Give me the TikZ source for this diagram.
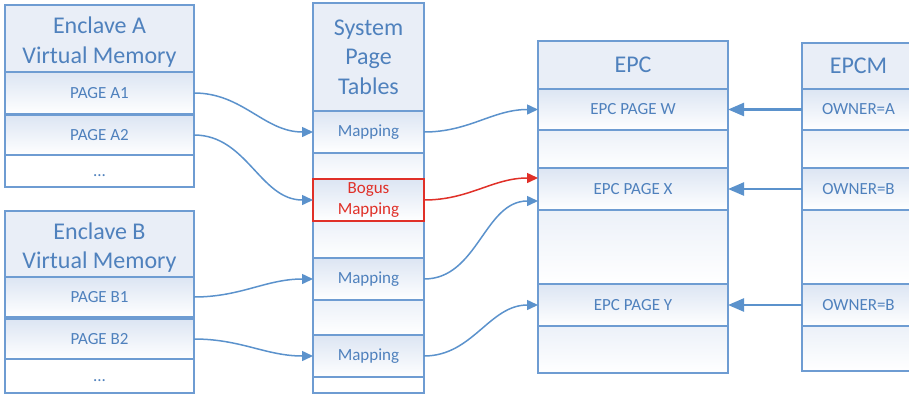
\documentclass[tikz,border=0pt]{standalone}
\usepackage{fontspec}
\setmainfont{Carlito}
\usetikzlibrary{arrows.meta,calc}

\definecolor{linec}{RGB}{110,156,210}
\definecolor{txt}{RGB}{79,129,189}
\definecolor{arrowc}{RGB}{91,146,204}
\definecolor{redc}{RGB}{224,48,40}
\definecolor{titlefill}{RGB}{233,238,247}
\definecolor{rowtop}{RGB}{220,229,243}

% a cell given by its corners: \cellbox[style](name)(x1,y1)(x2,y2){text}
\def\cellbox[#1](#2)(#3,#4)(#5,#6)#7{%
  \node[#1, minimum width={#5-#3}, minimum height={#6-#4}]
    (#2) at ({(#3+#5)/2},{(#4+#6)/2}) {#7};}
% content drawn lower than its box, keeping the box size
\newcommand\lowered[2]{\raisebox{-#1}[\height][\depth]{#2}}
\newcommand\twolines[2]{\lowered{4pt}{\begin{tabular}{@{}c@{}}#1\\#2\end{tabular}}}

\begin{document}
\begin{tikzpicture}[x=1pt,y=-1pt,
  cellbase/.style={draw=linec, line width=1.3, inner sep=0pt, outer sep=0pt, text=txt},
  titlecell/.style={cellbase, fill=titlefill, align=center,
    font=\fontsize{24}{29.5}\selectfont},
  rowcell/.style={cellbase, top color=rowtop, bottom color=white,
    font=\fontsize{17}{21}\selectfont},
  blankcell/.style={cellbase, top color=rowtop!55, bottom color=white},
  plaincell/.style={cellbase, fill=white, font=\fontsize{17}{21}\selectfont},
  badcell/.style={rowcell, draw=redc, text=redc, align=center},
  link/.style={draw=arrowc, line width=1.5, -{Triangle[length=11,width=10]}},
  badlink/.style={draw=redc, line width=1.5, -{Triangle[length=11,width=10]}},
  owner/.style={draw=arrowc, line width=2.4, -{Triangle[length=16,width=13]}}
]
\useasboundingbox (0,0) rectangle (909,394);
\clip (0,0) rectangle (909,394);

% Enclave A virtual memory
\cellbox[titlecell](tA)(5,5)(194,72){\twolines{Enclave A}{Virtual Memory}}
\cellbox[rowcell](a1)(5,72)(194,114){PAGE A1}
\cellbox[rowcell](a2)(5,115)(194,155){PAGE A2}
\cellbox[plaincell](aend)(5,155)(194,187){\lowered{5pt}{...}}

% Enclave B virtual memory
\cellbox[titlecell](tB)(5,211)(194,277){\twolines{Enclave B}{Virtual Memory}}
\cellbox[rowcell](b1)(5,277)(194,317){PAGE B1}
\cellbox[rowcell](b2)(5,319)(194,359){PAGE B2}
\cellbox[plaincell](bend)(5,359)(194,393){\lowered{5pt}{...}}

% System page tables
\cellbox[titlecell](tS)(313,3)(424,111){System\\Page\\Tables}
\cellbox[blankcell](s1)(313,153)(424,179){}
\cellbox[blankcell](s2)(313,221)(424,258){}
\cellbox[blankcell](s3)(313,300)(424,335){}
\cellbox[plaincell](s4)(313,377)(424,393){}
\cellbox[rowcell](m1)(313,111)(424,153){Mapping}
\cellbox[rowcell](m2)(313,258)(424,300){Mapping}
\cellbox[rowcell](m3)(313,335)(424,377){Mapping}
\cellbox[badcell](bogus)(313,179)(424,221){Bogus\\Mapping}

% EPC
\cellbox[titlecell](tE)(538,41)(728,89){EPC}
\cellbox[blankcell](e1)(538,130)(728,168){}
\cellbox[blankcell](e2)(538,210)(728,284){}
\cellbox[blankcell](e3)(538,326)(728,373){}
\cellbox[rowcell](pw)(538,89)(728,130){EPC PAGE W}
\cellbox[rowcell](px)(538,168)(728,210){EPC PAGE X}
\cellbox[rowcell](py)(538,284)(728,326){EPC PAGE Y}

% EPCM
\cellbox[titlecell](tM)(802,43)(915,89){EPCM}
\cellbox[blankcell](c1)(802,130)(915,168){}
\cellbox[blankcell](c2)(802,210)(915,284){}
\cellbox[blankcell](c3)(802,326)(915,371){}
\cellbox[rowcell](oa)(802,89)(915,130){OWNER=A}
\cellbox[rowcell](ob1)(802,168)(915,210){OWNER=B}
\cellbox[rowcell](ob2)(802,284)(915,326){OWNER=B}

% virtual pages to page table entries
\draw[link] (a1.east) to[out=0,in=180] (m1.west);
\draw[link] (a2.east) to[out=0,in=180] (bogus.west);
\draw[link] (b1.east) to[out=0,in=180] (m2.west);
\draw[link] (b2.east) to[out=0,in=180] (m3.west);

% page table entries to EPC pages
\draw[link] (m1.east) to[out=0,in=180] (pw.west);
\draw[badlink] (bogus.east) to[out=0,in=180] ($(px.west)+(0,-11)$);
\draw[link] (m2.east) to[out=0,in=180] ($(px.west)+(0,12)$);
\draw[link] (m3.east) to[out=0,in=180] (py.west);

% EPCM owner entries
\draw[owner] (oa.west) -- (pw.east);
\draw[owner] (ob1.west) -- (px.east);
\draw[owner] (ob2.west) -- (py.east);
\end{tikzpicture}
\end{document}
